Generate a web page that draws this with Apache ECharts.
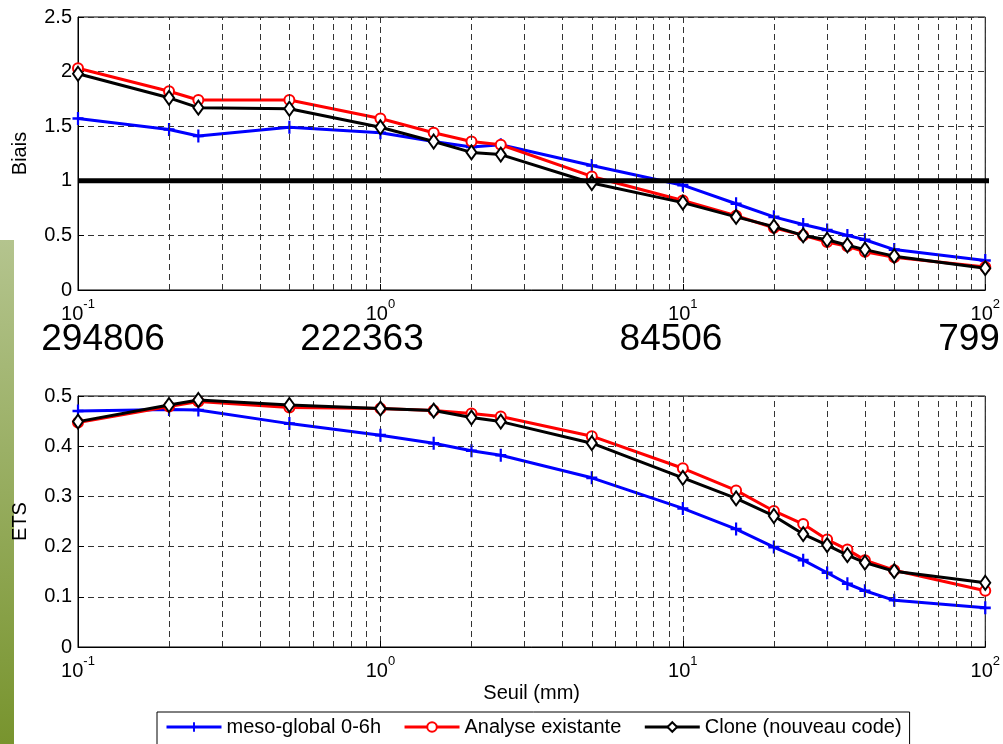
<!DOCTYPE html>
<html><head><meta charset="utf-8">
<script src="https://cdn.jsdelivr.net/npm/echarts@6/dist/echarts.min.js"></script>
<style>html,body{margin:0;padding:0;background:#fff}#c{width:1003px;height:744px}</style>
</head><body><div id="c"></div>
<script>
// ---- data ----
const seuils = [0.1, 0.2, 0.25, 0.5, 1, 1.5, 2, 2.5, 5, 10, 15, 20, 25, 30, 35, 40, 50, 100];
const biaisMeso  = [1.57, 1.47, 1.41, 1.49, 1.44, 1.36, 1.31, 1.33, 1.14, 0.96, 0.79, 0.67, 0.60, 0.55, 0.50, 0.46, 0.37, 0.27];
const biaisAnal  = [2.03, 1.82, 1.74, 1.74, 1.57, 1.44, 1.36, 1.33, 1.04, 0.82, 0.68, 0.57, 0.50, 0.44, 0.40, 0.35, 0.30, 0.21];
const biaisClone = [1.98, 1.76, 1.67, 1.66, 1.49, 1.36, 1.26, 1.24, 0.98, 0.80, 0.67, 0.58, 0.50, 0.46, 0.41, 0.37, 0.31, 0.20];
const etsMeso  = [0.470, 0.473, 0.472, 0.445, 0.422, 0.406, 0.391, 0.382, 0.337, 0.276, 0.235, 0.199, 0.173, 0.148, 0.126, 0.112, 0.093, 0.078];
const etsAnal  = [0.447, 0.479, 0.489, 0.477, 0.475, 0.471, 0.465, 0.459, 0.420, 0.356, 0.312, 0.271, 0.245, 0.214, 0.194, 0.173, 0.153, 0.112];
const etsClone = [0.449, 0.482, 0.492, 0.482, 0.475, 0.471, 0.457, 0.449, 0.406, 0.337, 0.296, 0.261, 0.225, 0.203, 0.183, 0.168, 0.151, 0.128];
const seriesNames = ['meso-global 0-6h', 'Analyse existante', 'Clone (nouveau code)'];
const counts = ['294806', '222363', '84506', '799'];
const yTitles = ['Biais', 'ETS'];
const xTitle = 'Seuil (mm)';
const refLine = [[0.1, 1], [108, 1]];
const decades = [0.1, 1, 10];
const minorMult = [2, 3, 4, 5, 6, 7, 8, 9];

// ---- helpers ----
const FONT = 'Liberation Sans';
const minorVals = [];
decades.forEach(d => minorMult.forEach(k => minorVals.push(+(k * d).toPrecision(6))));
const pair = (ys) => seuils.map((x, i) => [x, ys[i]]);
const plusPath = 'path://M4,0 L6,0 L6,4 L10,4 L10,6 L6,6 L6,10 L4,10 L4,6 L0,6 L0,4 L4,4 Z';
const styles = [
  { color: '#0000ff', symbol: plusPath, symbolSize: [11, 13], item: { color: '#0000ff' } },
  { color: '#ff0000', symbol: 'emptyCircle', symbolSize: 10, item: { color: '#ff0000', borderWidth: 2.5 } },
  { color: '#000000', symbol: 'emptyDiamond', symbolSize: [10, 14], item: { color: '#000000', borderWidth: 2.2 } }
];
const dash = [6, 4];

function xAxisCfg(gi, name) {
  return {
    type: 'log', logBase: 10, min: 0.1, max: 100, gridIndex: gi,
    name: name || '', nameLocation: 'middle', nameGap: 36,
    nameTextStyle: { fontFamily: FONT, fontSize: 20, color: '#000' },
    axisLine: { show: true, lineStyle: { color: '#000', width: 1 } },
    axisTick: { show: true, inside: true, length: 6, lineStyle: { color: '#000' } },
    splitLine: { show: true, lineStyle: { type: dash, color: '#333', width: 1 } },
    axisLabel: {
      margin: 8, color: '#000',
      formatter: v => '{b|10}{s|' + Math.round(Math.log10(v)) + '}',
      rich: {
        b: { fontFamily: FONT, fontSize: 20, lineHeight: 26, verticalAlign: 'bottom', color: '#000' },
        s: { fontFamily: FONT, fontSize: 13, verticalAlign: 'top', color: '#000' }
      }
    }
  };
}
function yAxisCfg(gi, max, interval, name) {
  return {
    type: 'value', min: 0, max: max, interval: interval, gridIndex: gi,
    name: name, nameLocation: 'middle', nameGap: 48, nameRotate: 90,
    nameTextStyle: { fontFamily: FONT, fontSize: 20, color: '#000' },
    axisLine: { show: true, lineStyle: { color: '#000', width: 1 } },
    axisTick: { show: true, inside: true, length: 6, lineStyle: { color: '#000' } },
    splitLine: { show: true, lineStyle: { type: dash, color: '#333', width: 1 } },
    axisLabel: { fontFamily: FONT, fontSize: 20, color: '#000', margin: 6 }
  };
}
function dataSeries(gi, arrs) {
  return arrs.map((ys, i) => ({
    name: seriesNames[i], type: 'line', xAxisIndex: gi, yAxisIndex: gi,
    data: pair(ys), symbol: styles[i].symbol, symbolSize: styles[i].symbolSize,
    showAllSymbol: true, z: 3 + i,
    lineStyle: { color: styles[i].color, width: 3 },
    itemStyle: styles[i].item
  }));
}
function minorGrid(gi) {
  return {
    type: 'line', xAxisIndex: gi, yAxisIndex: gi, data: [], z: 1, silent: true,
    markLine: {
      silent: true, symbol: 'none', label: { show: false }, animation: false,
      lineStyle: { type: dash, color: '#333', width: 1 },
      data: minorVals.map(v => ({ xAxis: v }))
    }
  };
}

const option = {
  animation: false,
  backgroundColor: '#fff',
  textStyle: { fontFamily: FONT },
  grid: [
    { left: 78, right: 13, top: 17, height: 273, show: true, borderColor: '#000', borderWidth: 1, backgroundColor: 'transparent' },
    { left: 78, right: 13, top: 396, height: 251, show: true, borderColor: '#000', borderWidth: 1, backgroundColor: 'transparent' }
  ],
  xAxis: [xAxisCfg(0), xAxisCfg(1, xTitle)],
  yAxis: [yAxisCfg(0, 2.5, 0.5, yTitles[0]), yAxisCfg(1, 0.5, 0.1, yTitles[1])],
  legend: {
    data: seriesNames, left: 157, top: 712, orient: 'horizontal',
    itemWidth: 55, itemHeight: 12, itemGap: 22,
    lineStyle: { width: 3 },
    padding: [5, 8, 8, 8], borderColor: '#000', borderWidth: 1, backgroundColor: '#fff',
    textStyle: { fontFamily: FONT, fontSize: 20, color: '#000' }
  },
  series: [
    minorGrid(0), minorGrid(1),
    ...dataSeries(0, [biaisMeso, biaisAnal, biaisClone]),
    ...dataSeries(1, [etsMeso, etsAnal, etsClone]),
    { name: 'ref', type: 'line', xAxisIndex: 0, yAxisIndex: 0, data: refLine, clip: false,
      symbol: 'none', z: 10, lineStyle: { color: '#000', width: 5 } }
  ],
  graphic: [
    { type: 'rect', left: 0, top: 240, shape: { width: 14, height: 504 }, z: -1,
      style: { fill: new echarts.graphic.LinearGradient(0, 0, 0, 1, [
        { offset: 0, color: '#b4c48e' }, { offset: 1, color: '#78942e' }]) } },
    ...counts.map((t, i) => ({
      type: 'text', x: [103, 362, 671, 969][i], y: 340,
      style: { text: t, fontFamily: FONT, fontSize: 37, fill: '#000', align: 'center', verticalAlign: 'middle' }
    }))
  ]
};
const chart = echarts.init(document.getElementById('c'), null, { renderer: 'canvas' });
chart.setOption(option);
</script></body></html>
